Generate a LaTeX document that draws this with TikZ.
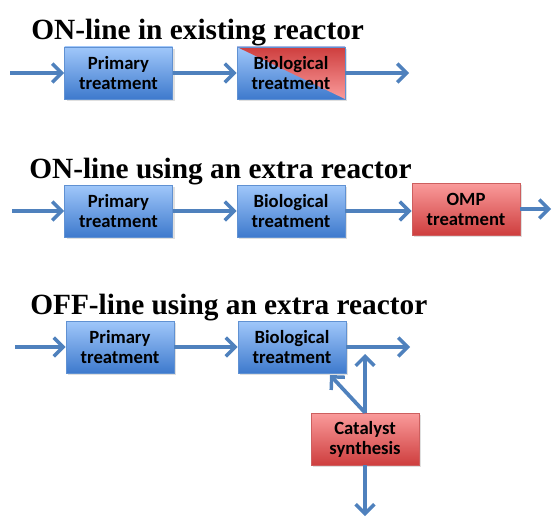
\documentclass[tikz,border=0pt]{standalone}
\usepackage{fontspec}
\setmainfont{Liberation Serif}
\newfontfamily\boxfont{Carlito}
\usetikzlibrary{arrows.meta,shadows}
\definecolor{flowblue}{RGB}{79,129,189}
\definecolor{bluetop}{RGB}{160,199,250}
\definecolor{bluebot}{RGB}{62,122,205}
\definecolor{blueline}{RGB}{96,145,210}
\definecolor{redtop}{RGB}{250,155,155}
\definecolor{redbot}{RGB}{206,62,62}
\definecolor{redline}{RGB}{205,95,95}

\tikzset{
  stage/.style={draw=blueline, line width=0.6pt, top color=bluetop, bottom color=bluebot,
    minimum width=81pt, minimum height=39pt, inner sep=0pt, align=center,
    font=\boxfont\bfseries\fontsize{14}{15}\selectfont,
    drop shadow={opacity=0.25, shadow xshift=1.5pt, shadow yshift=-1.5pt}},
  redstage/.style={stage, draw=redline, top color=redtop, bottom color=redbot},
  % red triangle over the upper right half of a box
  halfred/.style={path picture={
    \shade[top color=redbot, bottom color=redtop]
      (path picture bounding box.north west) -- (path picture bounding box.north east)
      -- (path picture bounding box.south east) -- cycle;}},
  flow/.style={draw=flowblue, line width=2.8pt,
    -{Straight Barb[length=7pt,width=14pt,line width=2.6pt]}},
  heading/.style={anchor=base west, inner sep=0pt, font=\bfseries\fontsize{22}{24}\selectfont}
}

\begin{document}
\begin{tikzpicture}[x=0.75pt,y=-0.75pt]
    \useasboundingbox (0,0) rectangle (552,517);

    % first scheme
    \node[heading] (title1) at (31,40) {ON-line in existing reactor};
    \node[stage] (prim1) at (118.5,73) {Primary\\treatment};
    \node[stage,halfred] (bio1) at (291,73) {Biological\\treatment};
    \coordinate (in1) at (10,73);
    \coordinate (out1) at (409,73);
    \draw[flow] (in1) -- (prim1.west);
    \draw[flow] (prim1.east) -- (bio1.west);
    \draw[flow] (bio1.east) -- (out1);

    % second scheme
    \node[heading] (title2) at (29,178) {ON-line using an extra reactor};
    \node[stage] (prim2) at (118.5,211) {Primary\\treatment};
    \node[stage] (bio2) at (291,211) {Biological\\treatment};
    \node[redstage] (omp2) at (466,209) {OMP\\treatment};
    \coordinate (in2) at (12,211);
    \coordinate (out2) at (551,209);
    \draw[flow] (in2) -- (prim2.west);
    \draw[flow] (prim2.east) -- (bio2.west);
    \draw[flow] (bio2.east) -- (bio2.east -| omp2.west);
    \draw[flow] (omp2.east) -- (out2);

    % third scheme
    \node[heading] (title3) at (30,314) {OFF-line using an extra reactor};
    \node[stage] (prim3) at (120,347) {Primary\\treatment};
    \node[stage] (bio3) at (292,347) {Biological\\treatment};
    \node[redstage] (cat3) at (365,439) {Catalyst\\synthesis};
    \coordinate (in3) at (15,347);
    \coordinate (out3) at (410,347);
    \coordinate (up3) at (365,354);
    \coordinate (back3) at (330,375);
    \coordinate (down3) at (365,516);
    \draw[flow] (in3) -- (prim3.west);
    \draw[flow] (prim3.east) -- (bio3.west);
    \draw[flow] (bio3.east) -- (out3);
    \draw[flow] (cat3.north) -- (up3);
    \draw[flow] (cat3.north) -- (back3);
    \draw[flow] (cat3.south) -- (down3);
\end{tikzpicture}
\end{document}
